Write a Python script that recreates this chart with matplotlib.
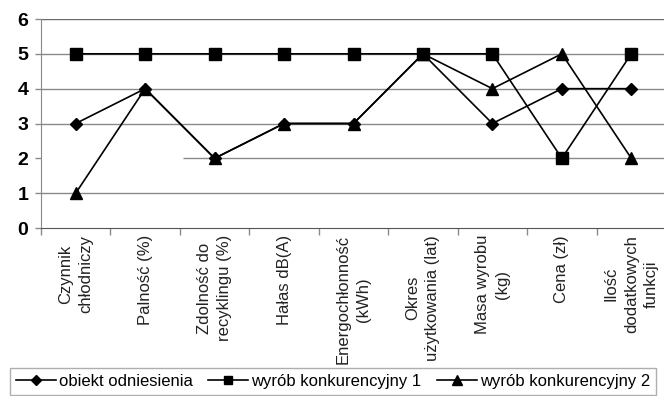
import matplotlib.pyplot as plt
import numpy as np

plt.rcParams['font.family'] = ['Liberation Sans', 'DejaVu Sans']

# Categories (wrapped for the rotated axis labels)
categories = [
    "Czynnik\nchłodniczy",
    "Palność (%)",
    "Zdolność do\nrecyklingu (%)",
    "Hałas dB(A)",
    "Energochłonność\n(kWh)",
    "Okres\nużytkowania (lat)",
    "Masa wyrobu\n(kg)",
    "Cena (zł)",
    "Ilość\ndodatkowych\nfunkcji",
]

obiekt = [3, 4, 2, 3, 3, 5, 3, 4, 4]
wyrob_1 = [5, 5, 5, 5, 5, 5, 5, 2, 5]
wyrob_2 = [1, 4, 2, 3, 3, 5, 4, 5, 2]

series_names = ["obiekt odniesienia", "wyrób konkurencyjny 1", "wyrób konkurencyjny 2"]
y_ticks = [0, 1, 2, 3, 4, 5, 6]

fig = plt.figure(figsize=(6.64, 3.96), dpi=100)
ax = fig.add_axes([41 / 664, 1 - 228 / 396, 625 / 664, 209 / 396])

x = np.arange(len(categories))
grid_col = '#8a8a8a'

# horizontal grid; the line at 2 only runs from the middle of the third slot
for y in y_ticks[1:]:
    if y == 2:
        ax.hlines(y, 1.55, len(categories) - 0.5, color=grid_col, lw=1, zorder=1)
    else:
        ax.axhline(y, color='#6a6a6a' if y == 6 else grid_col, lw=1, zorder=1)

ax.plot(x, obiekt, color='black', lw=1.2, marker='D', ms=6.5, label=series_names[0], zorder=3)
ax.plot(x, wyrob_1, color='black', lw=1.2, marker='s', ms=8, label=series_names[1], zorder=3)
ax.plot(x, wyrob_2, color='black', lw=1.2, marker='^', ms=9, label=series_names[2], zorder=3)

ax.set_xlim(-0.5, len(categories) - 0.5)
ax.set_ylim(0, 6)

ax.set_yticks(y_ticks)
ax.set_yticklabels([str(v) for v in y_ticks], fontsize=14, fontweight='bold')
ax.tick_params(axis='y', length=4, width=1, color=grid_col, pad=5)

# labels at slot centres, tick marks on slot boundaries
ax.set_xticks(x)
ax.set_xticklabels(categories, rotation=90, fontsize=12, va='top', ha='center',
                   multialignment='center', color='#222222', linespacing=1.4)
ax.tick_params(axis='x', length=0, pad=5)
ax.set_xticks(np.arange(-0.5, len(categories), 1.0), minor=True)
ax.tick_params(axis='x', which='minor', length=5, width=1, color=grid_col)

for side in ['top', 'right']:
    ax.spines[side].set_visible(False)
ax.spines['left'].set_color(grid_col)
ax.spines['bottom'].set_color('#555555')

leg = fig.legend(loc='upper left', bbox_to_anchor=(10 / 664, 1 - 368 / 396), ncol=3,
                 frameon=True, fancybox=False, edgecolor='#9a9a9a', fontsize=12,
                 handlelength=2.4, handletextpad=0.2, columnspacing=0.9,
                 markerscale=0.8, borderpad=0.35, borderaxespad=0)
leg.get_frame().set_linewidth(1)

fig.savefig('out.png', dpi=100)
